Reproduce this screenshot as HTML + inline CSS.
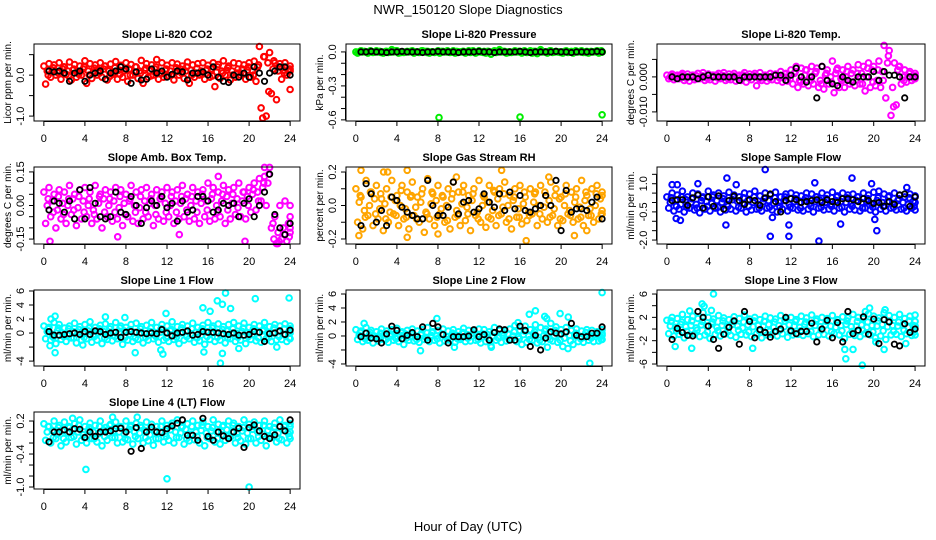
<!DOCTYPE html>
<html><head><meta charset="utf-8">
<style>
html,body{margin:0;padding:0;background:#fff;}
svg{display:block;font-family:"Liberation Sans",Arial,sans-serif;}
</style></head>
<body>
<svg id="chart" width="936" height="540" viewBox="0 0 936 540" xmlns="http://www.w3.org/2000/svg">
<rect x="0" y="0" width="936" height="540" fill="#fff"/>
<text x="468" y="14" font-size="13" text-anchor="middle">NWR_150120  Slope Diagnostics</text>
<text x="468" y="531" font-size="13" text-anchor="middle">Hour of Day (UTC)</text>
</svg>
<script>
const titles = ["Slope Li-820 CO2","Slope Li-820 Pressure","Slope Li-820 Temp.","Slope Amb. Box Temp.","Slope Gas Stream RH","Slope Sample Flow","Slope Line 1 Flow","Slope Line 2 Flow","Slope Line 3 Flow","Slope Line 4 (LT) Flow"];
const yTitles = ["Licor ppm per min.","kPa per min.","degrees C per min.","degrees C per min.","percent per min.","ml/min per min.","ml/min per min.","ml/min per min.","ml/min per min.","ml/min per min."];
const colors = ["#ff0000","#00ee00","#ff00ff","#ff00ff","#ffa500","#0000ff","#00ffff","#00ffff","#00ffff","#00ffff"];
const xTicks = [0,4,8,12,16,20,24];
const yTickVals = [[-1,-0.5,0,0.5],[-0.6,-0.5,-0.4,-0.3,-0.2,-0.1,0],[-0.01,-0.005,0,0.005],[-0.15,-0.1,-0.05,0,0.05,0.1,0.15],[-0.2,-0.1,0,0.1,0.2],[-2,-1.5,-1,-0.5,0,0.5,1,1.5],[-4,-2,0,2,4,6],[-4,-2,0,2,4,6],[-6,-4,-2,0,2,4,6],[-1,-0.8,-0.6,-0.4,-0.2,0,0.2]];
const yTickLabels = [["-1.0","","0.0",""],["-0.6","","","-0.3","","","0.0"],["-0.010","","0.000",""],["-0.15","","","0.00","","","0.15"],["-0.2","","0.0","","0.2"],["-2.0","","","-0.5","","","1.0",""],["-4","","0","2","4","6"],["-4","","0","2","4","6"],["-6","","-2","","2","","6"],["-1.0","","","-0.4","","","0.2"]];
const yDomains = [[-1.12,0.76],[-0.61,0.07],[-0.0126,0.0094],[-0.172,0.172],[-0.23,0.23],[-2.21,1.89],[-4.7,6.14],[-4.29,6.57],[-6.34,6.69],[-1.036,0.364]];

const seriesA = [
[0.22,0.28,0.25,0.3,0.2,0.32,0.26,0.22,0.35,0.28,0.25,0.3,0.22,0.27,0.33,0.24,0.3,0.26,0.2,0.36,0.28,0.25,0.38,0.3,0.24,0.3,0.27,0.22,0.32,0.25,0.28,0.3,0.24,0.3,0.26,0.35,0.22,0.3,0.28,0.25,0.3,0.34,0.7,0.45,0.55,0.3,0.28,0.3,0.22],
[0.0,0.01,0.0,0.005,0.01,0.0,0.005,0.02,0.01,0.0,0.005,0.01,0.0,0.01,0.005,0.0,0.01,0.005,0.0,0.01,0.0,0.005,0.01,0.0,0.01,0.005,0.0,0.01,0.02,0.005,0.0,0.01,0.005,0.0,0.01,0.005,0.02,0.0,0.01,0.005,0.0,0.01,0.005,0.0,0.01,0.005,0.0,0.01,0.0],
[0.0005,0.0008,0.0005,0.001,0.0008,0.0005,0.001,0.0012,0.0008,0.0005,0.001,0.0012,0.0008,0.001,0.0005,0.0012,0.0008,0.001,0.0012,0.0005,0.001,0.0008,0.0015,0.001,0.002,0.003,0.0025,0.002,0.003,0.0025,0.003,0.002,0.0045,0.0025,0.002,0.003,0.002,0.0035,0.003,0.004,0.003,0.0045,0.009,0.0075,0.004,0.003,0.002,0.0015,0.001],
[0.06,0.08,0.05,0.07,0.06,0.09,0.05,0.07,0.08,0.06,0.09,0.05,0.07,0.06,0.08,0.07,0.05,0.09,0.06,0.07,0.08,0.05,0.07,0.06,0.08,0.06,0.07,0.09,0.05,0.08,0.06,0.07,0.1,0.08,0.06,0.09,0.07,0.08,0.1,0.06,0.08,0.1,0.12,0.17,0.17,-0.05,0.0,0.02,0.0],
[0.1,0.05,0.15,0.08,0.12,0.04,0.1,0.15,0.06,0.12,0.08,0.14,0.05,0.1,0.16,0.07,0.12,0.05,0.1,0.14,0.08,0.12,0.06,0.1,0.15,0.05,0.12,0.08,0.1,0.14,0.06,0.1,0.12,0.05,0.1,0.08,0.12,0.06,0.14,0.1,0.05,0.12,0.08,0.1,0.15,0.06,0.1,0.12,0.08],
[0.3,0.5,0.4,0.6,0.3,0.5,0.45,0.3,0.6,0.4,0.5,0.35,0.55,0.4,0.3,0.5,0.45,0.6,0.35,0.5,0.4,0.55,0.3,0.45,0.5,0.4,0.35,0.5,0.45,0.3,0.5,0.4,0.55,0.35,0.5,0.4,0.45,0.3,0.5,0.4,0.55,0.6,0.45,0.35,0.5,0.4,0.3,0.45,0.35],
[1.0,0.8,1.5,1.2,0.7,1.0,1.4,0.9,1.2,1.6,0.8,1.1,1.3,0.9,1.5,1.0,0.8,1.2,1.4,0.9,1.1,1.5,0.8,1.2,1.0,1.6,0.9,1.2,1.0,1.4,0.8,1.1,1.5,1.0,1.3,0.9,1.2,1.5,1.0,1.4,0.8,1.2,1.0,1.5,0.9,1.2,1.0,1.3,1.0],
[0.9,0.7,1.2,0.8,0.6,1.0,0.7,0.9,1.1,0.6,0.8,1.0,0.7,0.9,1.2,0.6,0.8,1.0,0.7,0.9,0.6,1.1,0.8,0.7,1.0,0.9,0.6,1.2,0.8,0.7,1.0,1.5,0.8,1.4,0.9,1.6,1.2,1.0,1.8,1.3,0.9,1.2,0.8,1.0,0.7,0.9,0.8,0.6,0.9],
[1.5,2.0,1.8,2.5,1.6,2.2,1.8,2.8,2.0,1.7,2.3,1.9,1.6,2.1,1.8,2.4,1.7,2.0,1.6,2.2,1.9,1.7,2.3,1.8,2.0,1.6,2.2,1.9,2.4,1.7,2.0,1.8,2.3,1.6,2.1,1.9,2.5,2.0,1.8,2.6,2.2,1.9,2.8,2.3,2.0,2.5,1.8,2.2,2.4],
[0.15,0.1,0.2,0.12,0.18,0.08,0.15,0.22,0.1,0.16,0.12,0.2,0.08,0.14,0.18,0.1,0.2,0.12,0.16,0.08,0.18,0.14,0.1,0.2,0.12,0.16,0.22,0.1,0.15,0.2,0.12,0.18,0.1,0.22,0.14,0.12,0.2,0.16,0.1,0.22,0.14,0.18,0.12,0.2,0.1,0.16,0.22,0.12,0.15]
];
const seriesB = [
[-0.22,-0.05,0.0,-0.1,0.02,-0.12,-0.05,0.0,-0.2,-0.08,0.0,-0.05,-0.12,0.02,-0.1,-0.05,-0.15,0.0,-0.08,-0.2,-0.05,0.0,-0.1,-0.05,-0.02,-0.12,0.0,-0.08,-0.2,-0.05,0.0,-0.1,-0.05,-0.28,-0.08,0.0,-0.12,-0.05,0.0,-0.1,-0.05,-0.15,-0.8,-1.0,-0.45,-0.6,-0.1,0.0,-0.35],
[-0.01,0.0,-0.01,-0.005,0.0,-0.01,-0.005,0.0,-0.01,-0.005,0.0,-0.01,-0.005,0.0,-0.01,-0.005,-0.01,0.0,-0.005,-0.01,0.0,-0.01,-0.005,-0.01,0.0,-0.01,-0.02,-0.005,0.0,-0.01,-0.005,0.0,-0.01,-0.005,-0.01,-0.015,0.0,-0.01,-0.005,0.0,-0.01,-0.005,-0.01,0.0,-0.005,-0.01,0.0,-0.01,0.0],
[-0.0005,-0.0008,-0.0005,-0.001,-0.0012,-0.0008,-0.0005,-0.001,-0.0008,-0.0012,-0.0005,-0.001,-0.0008,-0.0012,-0.001,-0.0015,-0.0008,-0.0025,-0.001,-0.0012,-0.0008,-0.001,-0.0015,-0.0012,-0.002,-0.003,-0.002,-0.0025,-0.002,-0.003,-0.0035,-0.002,-0.0045,-0.003,-0.003,-0.002,-0.0025,-0.002,-0.004,-0.003,-0.0025,-0.003,-0.006,-0.011,-0.008,-0.002,-0.0015,-0.001,-0.0005],
[-0.08,-0.05,-0.1,-0.06,-0.08,-0.04,-0.09,-0.06,-0.05,-0.08,-0.06,-0.1,-0.05,-0.07,-0.06,-0.09,-0.05,-0.07,-0.08,-0.06,-0.05,-0.09,-0.06,-0.07,-0.05,-0.08,-0.06,-0.05,-0.07,-0.06,-0.08,-0.05,-0.07,-0.06,-0.05,-0.08,-0.06,-0.04,-0.05,-0.06,-0.03,-0.02,0.02,0.0,-0.1,-0.17,-0.15,-0.16,-0.12],
[-0.1,-0.14,-0.06,-0.12,-0.08,-0.15,-0.1,-0.05,-0.12,-0.08,-0.14,-0.06,-0.1,-0.16,-0.08,-0.12,-0.05,-0.1,-0.14,-0.07,-0.12,-0.09,-0.15,-0.06,-0.1,-0.13,-0.08,-0.12,-0.05,-0.1,-0.14,-0.07,-0.11,-0.09,-0.05,-0.12,-0.08,-0.1,-0.06,-0.12,-0.09,-0.05,-0.1,-0.08,-0.12,-0.06,-0.1,-0.08,-0.05],
[-0.3,-0.45,-0.35,-0.5,-0.3,-0.4,-0.55,-0.35,-0.45,-0.3,-0.5,-0.4,-0.35,-0.45,-0.3,-0.5,-0.4,-0.35,-0.45,-0.3,-0.4,-0.5,-0.35,-0.45,-0.3,-0.4,-0.45,-0.35,-0.5,-0.3,-0.4,-0.35,-0.45,-0.3,-0.5,-0.35,-0.4,-0.45,-0.3,-0.4,-0.5,-0.35,-0.45,-0.3,-0.4,-0.35,-0.45,-0.3,-0.4],
[-0.8,-1.0,-1.5,-0.9,-1.2,-0.7,-1.4,-1.0,-0.8,-1.3,-1.0,-1.5,-0.9,-1.1,-0.8,-1.6,-1.0,-1.2,-0.9,-1.4,-1.0,-0.8,-1.3,-1.0,-1.2,-0.9,-1.5,-1.0,-0.8,-1.3,-1.1,-1.6,-0.9,-1.2,-1.0,-1.4,-0.8,-1.2,-1.0,-1.5,-0.9,-1.1,-1.3,-0.8,-1.2,-1.0,-0.9,-1.2,-0.8],
[-0.5,-0.8,-0.6,-1.0,-0.7,-0.5,-0.9,-0.6,-0.8,-1.2,-0.6,-0.7,-0.9,-0.5,-0.8,-0.6,-1.0,-0.7,-0.6,-0.9,-0.5,-0.8,-0.7,-0.6,-1.0,-0.8,-1.4,-0.6,-0.9,-0.7,-0.5,-0.8,-1.2,-0.9,-0.6,-1.0,-0.8,-1.6,-0.7,-0.9,-1.5,-1.8,-1.2,-0.8,-0.9,-0.6,-0.8,-0.7,-0.5],
[-0.8,-1.2,-0.9,-1.5,-1.0,-0.8,-1.3,-1.0,-1.6,-0.9,-1.2,-0.8,-1.1,-1.4,-0.9,-1.0,-1.3,-0.8,-1.5,-1.0,-0.9,-1.2,-0.8,-1.4,-1.0,-0.9,-1.1,-0.8,-1.3,-1.0,-0.9,-1.2,-0.8,-1.0,-1.6,-0.9,-1.1,-1.3,-0.8,-1.0,-1.5,-1.2,-1.8,-1.0,-0.9,-1.3,-0.8,-1.1,-1.0],
[-0.15,-0.2,-0.12,-0.25,-0.18,-0.1,-0.22,-0.15,-0.2,-0.12,-0.18,-0.25,-0.15,-0.1,-0.2,-0.18,-0.14,-0.22,-0.12,-0.2,-0.16,-0.24,-0.12,-0.18,-0.15,-0.2,-0.1,-0.22,-0.16,-0.14,-0.2,-0.25,-0.12,-0.18,-0.22,-0.15,-0.1,-0.2,-0.16,-0.22,-0.12,-0.2,-0.15,-0.25,-0.1,-0.18,-0.14,-0.2,-0.12]
];
const seriesC = [
[0.1,0.12,0.08,0.15,0.1,0.12,0.05,0.15,0.1,0.08,0.12,0.15,0.1,0.05,0.12,0.1,0.15,0.08,0.1,0.12,0.1,0.15,0.05,0.12,0.1,0.08,0.15,0.1,0.12,0.05,0.1,0.12,0.15,0.08,0.1,0.12,0.1,0.05,0.15,0.12,0.1,0.2,-1.05,0.3,0.15,0.1,0.12,0.1,0.15],
[0,0.005,0,0,0.005,0,0,0.005,0,0,0.005,0,0,0.005,0,0,0.005,0,0,0.005,0,0,0.005,0,0,0.005,0,0,0.005,0,0,0.005,0,0,0.005,0,0,0.005,0,0,0.005,0,0,0.005,0,0,0.005,0,0],
[0,0.0003,0,-0.0003,0,0.0003,0,-0.0003,0,0.0005,0,-0.0003,0,0.0003,0,0,0.0003,0,-0.0003,0,0.0005,0,0,0.0003,0.001,-0.001,0.0005,0,0.001,-0.001,0.0005,0,0.001,-0.0005,0,0.001,-0.001,0.001,0,0.002,-0.001,0.0015,0.004,-0.003,0.002,0,0,0,0],
[0.0,0.02,-0.02,0.01,0.0,0.03,-0.01,0.02,0.0,-0.02,0.01,0.03,0.0,0.02,-0.01,0.01,0.02,0.0,-0.01,0.02,0.01,0.0,0.03,0.01,0.0,0.02,0.01,0.03,0.0,0.02,0.01,0.02,0.03,0.0,0.02,0.04,0.01,0.03,0.02,0.04,0.05,0.06,0.08,0.1,-0.08,-0.12,-0.1,-0.08,-0.05],
[0.02,-0.03,0.0,0.04,-0.02,0.01,-0.04,0.03,0.0,-0.02,0.05,-0.01,0.02,-0.04,0.01,0.03,-0.02,0.0,0.04,-0.03,0.01,-0.01,0.03,-0.04,0.0,0.02,-0.03,0.04,-0.01,0.0,0.03,-0.02,0.01,-0.04,0.02,0.0,-0.01,0.03,-0.02,0.04,0.0,-0.03,0.02,-0.01,0.03,-0.02,0.0,0.04,-0.03],
[0.0,0.1,-0.1,0.15,0.0,-0.1,0.1,0.05,-0.05,0.1,0.0,-0.1,0.15,0.05,-0.05,0.1,0.0,-0.1,0.05,0.1,-0.05,0.0,0.1,-0.1,0.05,0.0,0.1,-0.05,0.05,0.1,0.0,-0.1,0.1,0.05,0.0,-0.05,0.1,0.0,0.05,-0.1,0.1,0.0,0.05,-0.05,0.1,0.0,-0.1,0.05,0.0],
[0.2,-0.2,0.3,0.0,-0.3,0.2,0.1,-0.1,0.3,-0.2,0.0,0.2,-0.3,0.1,0.0,0.3,-0.2,0.1,0.0,-0.1,0.2,-0.3,0.1,0.0,0.3,-0.2,0.0,0.2,-0.1,0.1,-0.3,0.2,0.0,0.1,-0.2,0.3,0.0,-0.1,0.2,0.0,-0.2,0.1,0.3,-0.1,0.0,0.2,-0.2,0.1,0.0],
[0.1,-0.2,0.2,0.0,-0.1,0.2,0.0,-0.2,0.1,0.3,-0.1,0.0,0.2,-0.2,0.1,0.0,0.2,-0.1,0.0,0.1,-0.2,0.2,0.0,0.1,-0.1,0.2,0.0,-0.2,0.1,0.3,0.0,-0.1,0.2,0.0,0.3,-0.2,0.1,0.4,0.0,0.2,-0.3,0.1,0.0,-0.2,0.1,0.0,0.2,-0.1,0.1],
[0.5,0.3,0.8,0.4,0.6,0.2,0.7,0.5,0.9,0.3,0.6,0.4,0.8,0.5,0.2,0.7,0.4,0.6,0.5,0.8,0.3,0.6,0.4,0.7,0.5,0.3,0.8,0.5,0.6,0.4,0.7,0.5,0.3,0.6,0.8,0.4,0.5,0.7,0.3,0.6,0.5,0.8,0.4,0.6,0.5,0.7,0.3,0.6,0.5],
[0.0,0.03,-0.04,0.02,-0.02,0.05,0.0,-0.05,0.03,0.0,-0.03,0.04,-0.02,0.02,0.0,-0.04,0.05,0.0,-0.02,0.03,-0.05,0.02,0.0,-0.03,0.04,0.0,-0.02,0.05,-0.04,0.0,0.03,-0.02,0.02,0.0,-0.05,0.04,0.0,-0.03,0.02,-0.02,0.05,0.0,-0.04,0.03,0.0,-0.02,0.04,-0.03,0.0]
];
const seriesD = [
[0.0,0.18,0.05,0.2,-0.02,0.15,0.02,0.2,0.0,0.17,0.05,0.22,-0.03,0.18,0.02,0.15,0.0,0.2,0.05,0.17,-0.02,0.2,0.03,0.15,0.0,0.18,0.05,0.2,0.0,0.17,0.03,0.15,-0.02,0.2,0.05,0.18,0.0,0.15,0.03,0.2,0.0,0.25,0.45,-0.4,0.35,0.2,0.05,0.15,0.1],
[0.005,0,0.01,0,-0.005,0.005,0,0.01,-0.005,0,0.005,0,0.01,-0.005,0,0.005,0,0.01,0,-0.005,0.005,0,0.01,0,-0.005,0.005,0,0.01,0,-0.005,0.005,0,0.01,0,-0.005,0.005,0,0.01,0,-0.005,0.005,0,0.01,0,-0.005,0.005,0,0.01,0],
[0.0003,-0.0004,0.0005,-0.0003,0.0004,-0.0005,0.0003,-0.0004,0.0005,-0.0003,0.0004,-0.0005,0.0003,-0.0004,0.0005,-0.0003,0.0004,-0.0005,0.0003,-0.0004,0.0005,-0.0003,0.0008,-0.0006,0.0015,-0.0015,0.002,-0.001,0.0015,-0.002,0.001,-0.0015,0.002,-0.001,0.0015,-0.0015,0.001,-0.002,0.0025,-0.0015,0.002,-0.001,0.006,-0.0085,0.003,-0.001,0.001,-0.0005,0.0003],
[0.03,-0.03,0.04,-0.04,0.03,-0.02,0.04,-0.03,0.03,-0.04,0.04,-0.03,0.03,-0.03,0.04,-0.04,0.03,-0.03,0.04,-0.03,0.03,-0.04,0.04,-0.03,0.04,-0.03,0.04,-0.02,0.04,-0.03,0.05,-0.02,0.05,-0.03,0.05,-0.02,0.05,-0.01,0.06,0.0,0.07,0.02,0.1,0.14,-0.15,-0.16,-0.13,-0.14,-0.1],
[0.06,-0.07,0.08,-0.05,0.07,-0.08,0.05,-0.06,0.09,-0.07,0.06,-0.08,0.07,-0.05,0.08,-0.07,0.06,-0.09,0.07,-0.06,0.08,-0.05,0.07,-0.08,0.06,-0.07,0.09,-0.06,0.07,-0.08,0.05,-0.07,0.08,-0.06,0.07,-0.05,0.08,-0.07,0.06,-0.08,0.07,-0.06,0.05,-0.07,0.08,-0.06,0.07,-0.05,0.06],
[0.25,-0.2,0.3,-0.25,0.2,-0.3,0.25,-0.2,0.3,-0.25,0.2,-0.2,0.3,-0.25,0.25,-0.2,0.3,-0.3,0.2,-0.25,0.25,-0.2,0.3,-0.25,0.2,-0.3,0.25,-0.2,0.3,-0.25,0.2,-0.2,0.3,-0.25,0.25,-0.2,0.3,-0.3,0.2,-0.25,0.25,-0.2,0.3,-0.25,0.2,-0.3,0.25,-0.2,0.3],
[0.6,-0.6,0.7,-0.5,0.6,-0.7,0.5,-0.6,0.7,-0.5,0.6,-0.7,0.6,-0.5,0.7,-0.6,0.5,-0.7,0.6,-0.6,0.7,-0.5,0.6,-0.7,0.5,-0.6,0.7,-0.5,0.6,-0.7,0.6,-0.5,0.7,-0.6,0.5,-0.7,0.6,-0.6,0.7,-0.5,0.6,-0.7,0.5,-0.6,0.7,-0.5,0.6,-0.7,0.6],
[0.5,-0.4,0.5,-0.3,0.4,-0.5,0.3,-0.4,0.5,-0.3,0.4,-0.5,0.4,-0.3,0.5,-0.4,0.3,-0.5,0.4,-0.4,0.5,-0.3,0.4,-0.5,0.3,-0.4,0.5,-0.3,0.4,-0.5,0.6,-0.4,0.7,-0.5,0.6,-0.6,0.7,-0.5,0.8,-0.6,0.5,-0.7,0.4,-0.4,0.5,-0.3,0.4,-0.5,0.4],
[1.3,-0.3,1.2,-0.4,1.4,-0.2,1.3,-0.5,1.2,-0.3,1.4,-0.4,1.3,-0.2,1.2,-0.5,1.4,-0.3,1.3,-0.4,1.2,-0.2,1.4,-0.5,1.3,-0.3,1.2,-0.4,1.4,-0.2,1.3,-0.5,1.2,-0.3,1.4,-0.4,1.3,-0.2,1.2,-0.5,1.4,-0.3,1.3,-0.4,1.2,-0.2,1.4,-0.5,1.3],
[0.1,-0.1,0.08,-0.12,0.1,-0.08,0.12,-0.1,0.08,-0.12,0.1,-0.08,0.12,-0.1,0.08,-0.12,0.1,-0.08,0.12,-0.1,0.08,-0.12,0.1,-0.08,0.12,-0.1,0.08,-0.12,0.1,-0.08,0.12,-0.1,0.08,-0.12,0.1,-0.08,0.12,-0.1,0.08,-0.12,0.1,-0.08,0.12,-0.1,0.08,-0.12,0.1,-0.08,0.1]
];
const outliers = [
[],
[[8.1,-0.58],[16,-0.575],[24,-0.555]],
[],
[[0.6,-0.16],[7.2,-0.14],[17,0.13],[19.6,-0.16],[13.2,-0.13],[21.5,0.13],[22.8,-0.17]],
[[0.3,-0.18],[0.5,0.21],[2.7,0.2],[3.1,0.2],[5,0.21],[5,-0.19],[8,-0.17],[9.8,0.17],[14.2,0.21],[16.6,-0.21],[18.8,0.17],[21.3,-0.18],[22.5,-0.15]],
[[0.5,0.95],[1,0.95],[3,1.0],[5.8,1.3],[5.7,-1.2],[6.7,0.95],[9.5,1.75],[10,-1.8],[10.2,-0.8],[11.8,-1.2],[11.8,-1.8],[14.3,1.05],[14.7,-2.05],[17.9,1.3],[16.8,-1.15],[20.1,-0.9],[20.3,-1.5],[23.2,0.8],[0.9,-0.85],[1.3,-0.95],[19.8,1.0]],
[[0.7,2.0],[1.1,2.4],[1.1,-2.8],[0.6,-1.8],[3.8,-1.7],[6.0,2.3],[7.9,2.2],[8.9,-2.8],[11.4,-2.4],[11.6,-3.0],[11.9,2.8],[15.5,3.6],[15.6,-2.7],[16.2,3.1],[16.9,4.6],[17.4,4.1],[17.2,-4.3],[17.4,-2.9],[17.7,5.7],[18.2,3.5],[19,-2.2],[20.6,4.9],[23.9,5.0],[22.7,-2.0]],
[[0.8,1.8],[6.3,-2.1],[7.9,2.5],[15.8,1.9],[16.9,3.1],[17.5,3.6],[18.4,2.8],[18.6,2.5],[19.9,3.2],[20.7,2.7],[22.8,-3.9],[24,6.2],[9.6,-1.6],[13.2,-1.6]],
[[0.4,1.4],[0.8,-3.0],[2.2,3.1],[2.4,-3.3],[3.4,4.3],[3.6,3.9],[4.5,6.0],[4.3,3.2],[8.3,-3.3],[17.2,-3.5],[17.3,-5.1],[18.0,-3.5],[18.9,-6.2],[19.6,3.6],[19.2,3.0],[20.2,-2.2],[21.1,3.3],[21,-3.5],[23.1,-2.5]],
[[4.1,-0.68],[12,-0.85],[20,-1.0],[6.7,0.27],[9.1,0.27],[2.8,0.25]]
];
const blackVals = [
[0.1,0.08,0.1,0.05,-0.15,0.05,0.1,-0.15,0.0,0.05,0.1,-0.1,0.05,0.1,0.2,0.15,-0.2,0.08,-0.12,-0.1,0.15,0.05,0.1,-0.05,0.02,0.1,0.08,-0.12,0.05,0.05,0.08,0.0,0.2,-0.05,-0.15,-0.18,0.0,-0.05,0.05,-0.05,0.2,0.05,-0.15,0.05,0.1,0.2,0.2,0.0],
[0,0,0.005,0,0,-0.005,0,0,0.005,0,0,0,-0.005,0,0,0.005,0,0,0,-0.005,0,0,0,0.005,0,0,-0.005,0,0,0,0,0.005,0,-0.005,0,0,0,0,0.005,0,0,-0.005,0,0,0,0,0.005,0],
[0,-0.0005,0,0,0,-0.0005,0,0.0005,0,0,0,0,0,-0.001,0,0,0,0,0,0,0.0005,0.0005,-0.001,0.0005,0.0025,0,-0.0015,0,-0.006,0.003,-0.001,-0.002,-0.0025,0,-0.001,-0.0015,0,0,0,0.0015,-0.001,0.0015,0.0005,0.0005,0,-0.006,0,0],
[-0.02,0.02,0.01,-0.03,0.02,-0.06,0.07,-0.06,0.08,0.01,-0.05,-0.06,-0.05,0.06,-0.03,-0.04,0.04,0.0,-0.08,-0.01,0.02,0.0,0.04,-0.01,0.01,-0.07,0.02,-0.03,-0.02,0.04,0.04,0.02,-0.03,-0.02,0.01,0.0,0.01,-0.05,0.01,0.03,-0.05,0.0,0.06,0.14,-0.04,-0.1,-0.13,-0.08],
[-0.12,0.13,0.07,-0.1,-0.03,-0.12,0.05,0.03,-0.01,-0.04,-0.06,-0.08,-0.08,0.15,0.0,-0.06,-0.06,-0.01,0.14,-0.05,0.02,0.03,-0.04,-0.02,0.07,0.02,-0.01,0.07,-0.03,0.08,-0.02,0.06,-0.03,-0.04,-0.02,0.0,0.06,0.0,0.15,-0.15,0.09,-0.04,-0.02,-0.02,-0.03,0.02,0.05,-0.08],
[0.1,0.15,0.15,-0.15,0.25,0.4,-0.3,0.3,-0.2,0.35,-0.35,0.1,0.35,0.1,-0.1,0.15,0.1,-0.15,0.25,0.45,0.05,-0.5,0.1,0.2,0.15,0.0,0.05,0.1,0.15,0.0,0.15,0.05,0.0,0.2,0.2,0.15,0.05,0.2,0.1,-0.05,0.0,-0.2,0.05,-0.1,0.4,0.45,-0.2,0.3],
[0.2,-0.3,-0.3,-0.2,-0.1,0.0,-0.2,0.2,-0.2,0.3,0.2,-0.2,0.0,0.1,-0.6,0.1,0.2,0.1,0.0,-0.1,0.0,-0.1,0.5,0.0,-0.4,0.0,0.1,0.3,-0.3,-0.2,0.2,0.1,0.1,0.0,-0.1,-0.2,0.0,-0.3,-0.3,-0.2,0.2,0.1,-1.2,-0.1,0.0,0.3,-0.2,0.4],
[-0.1,0.4,-0.3,-0.4,-1.0,0.3,1.4,0.8,-0.4,0.1,0.5,-0.1,1.3,-0.6,1.8,1.3,0.2,-1.0,-0.1,-0.1,-0.1,0.0,0.9,-0.1,0.2,-0.6,0.5,1.0,0.9,-0.6,-0.6,1.4,0.8,-1.5,0.1,-2.0,-0.3,0.6,0.4,0.3,0.6,1.8,0.1,-0.1,-0.1,0.4,0.4,1.3],
[-1.8,0.1,-0.6,-1.1,-1.2,3.0,2.0,0.5,-1.8,-3.3,-0.9,0.3,1.4,-2.6,3.0,1.3,-1.5,-0.1,-0.6,-1.4,-0.4,0.0,2.0,-0.3,-0.8,-0.4,-0.4,1.0,-2.2,0.0,1.5,-1.5,1.1,-2.2,3.0,-0.8,-0.2,2.1,-0.9,1.7,-2.5,1.6,1.2,-2.6,-2.9,0.9,-0.6,0.0],
[-0.18,0.0,0.0,0.04,0.0,0.06,0.05,-0.1,0.0,-0.08,0.0,0.0,0.02,0.06,0.07,0.0,-0.35,0.08,-0.3,0.0,0.09,0.0,-0.01,0.06,0.11,0.16,0.22,-0.06,-0.06,-0.15,0.25,-0.08,-0.15,0.0,-0.07,-0.12,0.0,0.07,-0.28,0.08,0.13,0.02,-0.08,-0.12,-0.05,0.1,0.02,0.22]
];

const NS = "http://www.w3.org/2000/svg";
const svg = document.getElementById("chart");
const colBoxes = [[34,300],[346,612],[657,925]];
const rowBoxes = [[44,121],[167,244],[290,366],[412,489]];
const X_DOMAIN = [-0.96, 24.96];

function mk(tag, attrs, parent){
  const e = document.createElementNS(NS, tag);
  for (const k in attrs) e.setAttribute(k, attrs[k]);
  parent.appendChild(e);
  return e;
}

for (let p = 0; p < titles.length; p++) {
  const cx = colBoxes[p % 3], ry = rowBoxes[Math.floor(p / 3)];
  const L = cx[0], R = cx[1], T = ry[0], B = ry[1];
  const dom = yDomains[p];
  const xs = t => L + (t - X_DOMAIN[0]) / (X_DOMAIN[1] - X_DOMAIN[0]) * (R - L);
  const ys = v => B - (v - dom[0]) / (dom[1] - dom[0]) * (B - T);

  const g = mk("g", {}, svg);
  
  

  const title = mk("text", {x: (L + R) / 2, y: T - 6, "font-size": 11, "font-weight": "bold", "text-anchor": "middle"}, g);
  title.textContent = titles[p];
  
  

  const yt = mk("text", {x: L - 23, y: (T + B) / 2, "font-size": 10, "text-anchor": "middle", transform: "rotate(-90 " + (L - 23) + " " + ((T + B) / 2) + ")"}, g);
  yt.textContent = yTitles[p];
  
  

  const pts = mk("g", {fill: "none", stroke: colors[p], "stroke-width": 2}, g);
  
  
  const sets = [[seriesA[p], 0], [seriesB[p], 0.17], [seriesC[p], 0.33], [seriesD[p], 0.42]];
  for (const [arr, off] of sets) {
    const n = arr.length;
    for (let i = 0; i < n; i++) {
      const t = Math.min(24, i * 24 / (n - 1) + off);
      const c = mk("circle", {cx: xs(t).toFixed(1), cy: ys(arr[i]).toFixed(1), r: 2.8}, pts);
      
      
    }
  }
  for (const o of outliers[p]) {
    const c = mk("circle", {cx: xs(o[0]).toFixed(1), cy: ys(o[1]).toFixed(1), r: 2.8}, pts);
    
    
  }
  const bk = mk("g", {fill: "none", stroke: "#000", "stroke-width": 1.8}, g);
  
  
  const kv = blackVals[p];
  for (let i = 0; i < kv.length; i++) {
    const t = 0.5 + i * 23.5 / (kv.length - 1);
    const c = mk("circle", {cx: xs(t).toFixed(1), cy: ys(kv[i]).toFixed(1), r: 2.7}, bk);
    
    
  }

  const fr = mk("rect", {x: L, y: T, width: R - L, height: B - T, fill: "none", stroke: "#000", "stroke-width": 1}, g);
  
  

  const xa = mk("g", {}, g);
  
  
  mk("line", {x1: xs(0), x2: xs(24), y1: B + 0.5, y2: B + 0.5, stroke: "#000"}, xa);
  for (const t of xTicks) {
    mk("line", {x1: xs(t), x2: xs(t), y1: B, y2: B + 5, stroke: "#000"}, xa);
    const tx = mk("text", {x: xs(t), y: B + 21, "font-size": 11, "text-anchor": "middle"}, xa);
    tx.textContent = String(t);
    
    
  }
  const ya = mk("g", {}, g);
  
  
  const tv = yTickVals[p], tl = yTickLabels[p];
  mk("line", {x1: L - 0.5, x2: L - 0.5, y1: ys(tv[0]), y2: ys(tv[tv.length - 1]), stroke: "#000"}, ya);
  for (let i = 0; i < tv.length; i++) {
    const y = ys(tv[i]);
    mk("line", {x1: L - 5, x2: L, y1: y, y2: y, stroke: "#000"}, ya);
    if (tl[i]) {
      const tx = mk("text", {x: L - 10, y: y, "font-size": 11, "text-anchor": "middle", transform: "rotate(-90 " + (L - 10) + " " + y + ")"}, ya);
      tx.textContent = tl[i];
      
      
    }
  }
}
</script>
</body></html>
